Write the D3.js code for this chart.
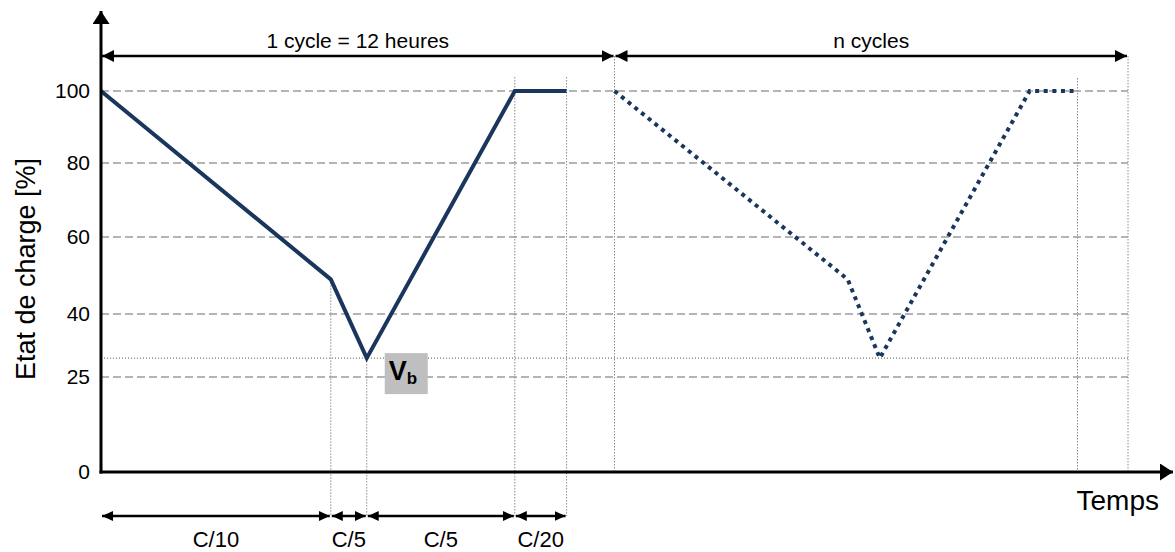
<!DOCTYPE html>
<html><head><meta charset="utf-8">
<script src="https://cdn.jsdelivr.net/npm/d3@7"></script>
<style>
body{margin:0;background:#fff;}
svg text{font-family:"Liberation Sans",Arial,sans-serif;fill:#000;}
</style></head>
<body>
<svg id="c" width="1175" height="552"></svg>
<script>
// ---- data ----
const cycleTime = [0, 5.37, 6.21, 9.67, 10.88];
const cycleSoc  = [100, 49, 29.5, 100, 100];
const nCycleTime = [12, 17.45, 18.2, 21.7, 22.82];
const nCycleSoc  = [100, 49, 29.5, 100, 100];
const yTicks = [0, 25, 40, 60, 80, 100];
const gridValues = [25, 40, 60, 80, 100];
const vbLevel = 29.5;
const phaseLabels = ["C/10", "C/5", "C/5", "C/20"];
const spanBounds = [0, 12, 24];
const spanLabels = ["1 cycle = 12 heures", "n cycles"];
const yLabel = "Etat de charge [%]";
const xLabel = "Temps";

// ---- scales ----
const x = d3.scaleLinear().domain([0, 24]).range([101, 1128]);
const y = d3.scaleLinear().domain([0, 25, 40, 60, 80, 100]).range([472, 377, 314, 237, 163, 91]);

const svg = d3.select("#c");
const navy = "#1b365d";

// arrow markers
const defs = svg.append("defs");
function marker(id, w, h) {
  defs.append("marker").attr("id", id).attr("viewBox", `0 0 ${w} ${h}`)
    .attr("refX", w).attr("refY", h / 2).attr("markerWidth", w).attr("markerHeight", h)
    .attr("markerUnits", "userSpaceOnUse").attr("orient", "auto-start-reverse")
    .append("path").attr("d", `M0,0L${w},${h/2}L0,${h}Z`).attr("fill", "#000");
}
marker("arr", 12, 12);
marker("arrBig", 13, 17);
marker("arrSm", 11, 10);

// horizontal dashed gridlines
svg.append("g").selectAll("line").data(gridValues).join("line")
  .attr("x1", x(0)).attr("x2", x(24)).attr("y1", d => y(d)).attr("y2", d => y(d))
  .attr("stroke", "#6a6a6a").attr("stroke-width", 1.2).attr("stroke-dasharray", "8,4");

// Vb dotted line
svg.append("line").attr("x1", x(0)).attr("x2", x(24)).attr("y1", y(vbLevel)).attr("y2", y(vbLevel))
  .attr("stroke", "#555").attr("stroke-width", 1).attr("stroke-dasharray", "1,2");

// vertical dotted lines
const bottomArrowY = 516;
const topArrowY = 56;
const vlines = [
  {t: cycleTime[1], y1: y(cycleSoc[1]), y2: bottomArrowY},
  {t: cycleTime[2], y1: y(cycleSoc[2]), y2: bottomArrowY},
  {t: cycleTime[3], y1: y(100) - 14, y2: bottomArrowY},
  {t: cycleTime[4], y1: y(100) - 14, y2: bottomArrowY},
  {t: spanBounds[1], y1: topArrowY, y2: y(0)},
  {t: nCycleTime[4], y1: y(100) - 13, y2: y(0)},
  {t: spanBounds[2], y1: topArrowY, y2: y(0)}
];
svg.append("g").selectAll("line").data(vlines).join("line")
  .attr("x1", d => x(d.t)).attr("x2", d => x(d.t)).attr("y1", d => d.y1).attr("y2", d => d.y2)
  .attr("stroke", "#8c8c8c").attr("stroke-width", 1).attr("stroke-dasharray", "1.5,1.5");

// series lines
const line = d3.line().x(d => x(d[0])).y(d => y(d[1]));
svg.append("path").datum(cycleTime.map((t, i) => [t, cycleSoc[i]]))
  .attr("d", line).attr("fill", "none").attr("stroke", navy).attr("stroke-width", 4)
  .attr("stroke-linejoin", "miter");
svg.append("path").datum(nCycleTime.map((t, i) => [t, nCycleSoc[i]]))
  .attr("d", line).attr("fill", "none").attr("stroke", navy).attr("stroke-width", 4)
  .attr("stroke-dasharray", "4,4.6");

// axes lines with arrows
svg.append("line").attr("x1", x(0)).attr("y1", y(0) + 1.5).attr("x2", x(0)).attr("y2", 11)
  .attr("stroke", "#000").attr("stroke-width", 3).attr("marker-end", "url(#arrBig)");
svg.append("line").attr("x1", x(0) - 1.5).attr("y1", y(0)).attr("x2", 1173).attr("y2", y(0))
  .attr("stroke", "#000").attr("stroke-width", 3).attr("marker-end", "url(#arrBig)");

// y tick labels
const yAxis = svg.append("g").attr("transform", `translate(${x(0)},0)`)
  .call(d3.axisLeft(y).tickValues(yTicks).tickSize(0).tickPadding(11).tickFormat(d3.format("d")));
yAxis.select(".domain").remove();
yAxis.selectAll("text").attr("font-size", 21).attr("font-family", "Liberation Sans, Arial, sans-serif").attr("fill", "#000");

// y label
svg.append("text").attr("transform", `translate(35,${(380 + 158) / 2}) rotate(-90)`)
  .attr("text-anchor", "middle").attr("font-size", 27).text(yLabel);

// x label
svg.append("text").attr("x", 1159).attr("y", 510).attr("text-anchor", "end")
  .attr("font-size", 28).text(xLabel);

// top span arrows
for (let i = 0; i < spanLabels.length; i++) {
  const a = x(spanBounds[i]), b = x(spanBounds[i + 1]);
  svg.append("line").attr("x1", a + 1).attr("x2", b - 1).attr("y1", topArrowY).attr("y2", topArrowY)
    .attr("stroke", "#000").attr("stroke-width", 2.5)
    .attr("marker-start", "url(#arr)").attr("marker-end", "url(#arr)");
  svg.append("text").attr("x", (a + b) / 2).attr("y", 48).attr("text-anchor", "middle")
    .attr("font-size", 21).text(spanLabels[i]);
}

// bottom phase arrows
for (let i = 0; i < phaseLabels.length; i++) {
  const a = x(cycleTime[i]), b = x(cycleTime[i + 1]);
  svg.append("line").attr("x1", a + 1).attr("x2", b - 1).attr("y1", bottomArrowY).attr("y2", bottomArrowY)
    .attr("stroke", "#000").attr("stroke-width", 2.5)
    .attr("marker-start", "url(#arrSm)").attr("marker-end", "url(#arrSm)");
  svg.append("text").attr("x", (a + b) / 2).attr("y", 547).attr("text-anchor", "middle")
    .attr("font-size", 22).text(phaseLabels[i]);
}

// Vb label
const vbx = x(cycleTime[2]) + 18, vby = y(vbLevel) - 5;
svg.append("rect").attr("x", vbx).attr("y", vby).attr("width", 43).attr("height", 41).attr("fill", "#bfbfbf");
const vt = svg.append("text").attr("x", vbx + 4).attr("y", vby + 27).attr("font-weight", "bold").attr("font-size", 27);
vt.append("tspan").text("V");
vt.append("tspan").attr("font-size", 17).attr("dy", 4).text("b");
</script>
</body></html>
